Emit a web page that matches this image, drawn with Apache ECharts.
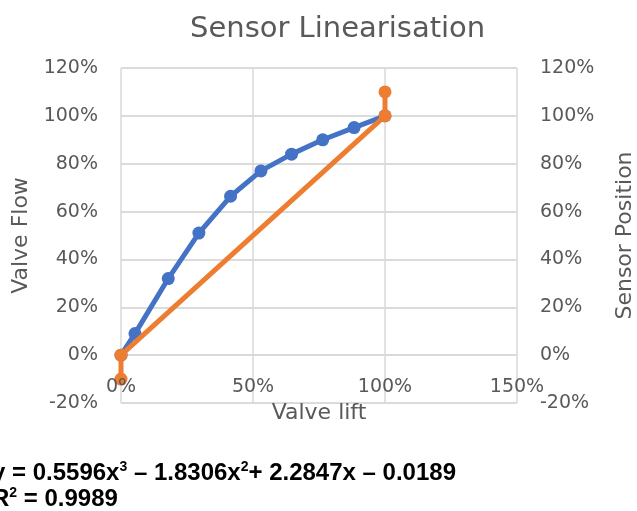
<!DOCTYPE html>
<html>
<head>
    <meta charset="UTF-8">
    <title>Sensor Linearisation</title>
    <script src="https://cdn.jsdelivr.net/npm/echarts@6/dist/echarts.min.js"></script>
    <style>
        html, body {margin: 0; padding: 0; background: #fff;}
    </style>
</head>
<body>
<div id="main" style="width: 637px;height:511px;"></div>
<script>
    // valve lift vs flow (measured)
    var liftValues = [0, 0.053, 0.179, 0.295, 0.415, 0.53, 0.646, 0.764, 0.883, 1.0];
    var flowValues = [0, 0.09, 0.32, 0.51, 0.664, 0.77, 0.84, 0.90, 0.951, 1.0];

    // sensor position (secondary axis)
    var sensorX = [0, 0, 1, 1];
    var sensorY = [-0.1, 0, 1, 1.1];

    var xTicks = [0, 0.5, 1, 1.5];
    var yTicks = [-0.2, 0, 0.2, 0.4, 0.6, 0.8, 1.0, 1.2];

    var eqLine1 = '{b|y = 0.5596x}{s|3}{b| – 1.8306x}{s|2}{b|+ 2.2847x – 0.0189}';
    var eqLine2 = '{b|R}{s|2}{b| = 0.9989}';

    var myChart = echarts.init(document.getElementById('main'));

    function pct(v) {
        return Math.round(v * 100) + '%';
    }

    var gray = '#595959';
    var gridColor = '#d9d9d9';
    var font = '"DejaVu Sans", "Open Sans", sans-serif';
    var eqFont = '"Liberation Sans Narrow", "Liberation Sans", Arial, sans-serif';

    var blueData = liftValues.map(function (x, i) {
        return [x, flowValues[i]];
    });
    var orangeData = sensorX.map(function (x, i) {
        return [x, sensorY[i]];
    });

    var yAxisBase = {
        type: 'value',
        min: yTicks[0],
        max: yTicks[yTicks.length - 1],
        interval: 0.2,
        nameLocation: 'middle',
        nameTextStyle: {color: gray, fontSize: 22, fontFamily: font},
        axisLine: {show: false, onZero: false},
        axisTick: {show: false},
        axisLabel: {color: gray, fontSize: 19, fontFamily: font, formatter: pct, margin: 23},
        splitLine: {show: true, lineStyle: {color: gridColor, width: 1.5}}
    };

    var xAxisBase = {
        type: 'value',
        min: xTicks[0],
        max: xTicks[xTicks.length - 1],
        interval: 0.5,
        position: 'bottom',
        // axis sits on the 0% line (0 is 0.2 of the 1.4 span above the bottom)
        offset: -48,
        axisTick: {show: false}
    };

    var option = {
        backgroundColor: '#fff',
        animation: false,
        title: {
            text: 'Sensor Linearisation',
            left: 185,
            top: 10,
            textStyle: {color: gray, fontSize: 29, fontWeight: 'normal', fontFamily: font}
        },
        grid: {left: 121, right: 120, top: 68, bottom: 108, outerBoundsMode: 'none', containLabel: false},
        xAxis: [
            // grid lines and axis line, under the series
            echarts.util.merge({
                axisLine: {show: true, onZero: false, lineStyle: {color: gridColor, width: 1.5}},
                axisLabel: {show: false},
                splitLine: {show: true, lineStyle: {color: gridColor, width: 1.5}}
            }, xAxisBase, true),
            // labels and name, above the series
            echarts.util.merge({
                z: 10,
                name: 'Valve lift',
                nameLocation: 'middle',
                nameGap: 45,
                nameTextStyle: {color: gray, fontSize: 22, fontFamily: font},
                axisLine: {show: false, onZero: false},
                axisLabel: {color: gray, fontSize: 19, fontFamily: font, formatter: pct, margin: 23},
                splitLine: {show: false}
            }, xAxisBase, true)
        ],
        yAxis: [
            echarts.util.merge({name: 'Valve Flow', nameGap: 86}, yAxisBase, true),
            echarts.util.merge({name: 'Sensor Position', nameGap: 97, position: 'right'}, yAxisBase, true)
        ],
        graphic: [
            {
                type: 'text',
                left: -8,
                top: 460,
                style: {
                    text: eqLine1 + '\n' + eqLine2,
                    rich: {
                        b: {fontSize: 24, fontWeight: 'bold', fontFamily: eqFont, fill: '#000', lineHeight: 26},
                        s: {fontSize: 14, fontWeight: 'bold', fontFamily: eqFont, fill: '#000', lineHeight: 26, padding: [0, 0, 12, 0]}
                    }
                }
            }
        ],
        series: [
            {
                name: 'Valve Flow',
                type: 'line',
                data: blueData,
                xAxisIndex: 0,
                yAxisIndex: 0,
                symbol: 'circle',
                symbolSize: 13,
                itemStyle: {color: '#4472C4'},
                lineStyle: {color: '#4472C4', width: 5},
                z: 2
            },
            {
                name: 'Sensor Position',
                type: 'line',
                data: orangeData,
                xAxisIndex: 0,
                yAxisIndex: 1,
                symbol: 'circle',
                symbolSize: 13,
                itemStyle: {color: '#ED7D31'},
                lineStyle: {color: '#ED7D31', width: 5},
                z: 3
            }
        ]
    };

    myChart.setOption(option);
</script>
</body>
</html>
